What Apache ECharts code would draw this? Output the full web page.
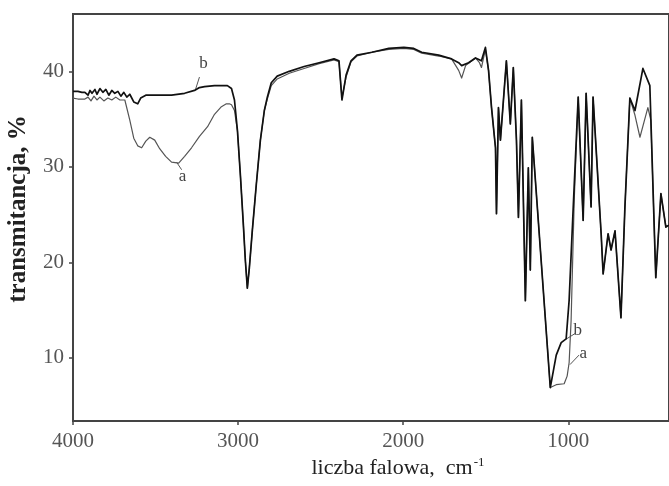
<!DOCTYPE html>
<html>
<head>
<meta charset="utf-8">
<style>
html,body{margin:0;padding:0;background:#fff;}
#c{width:669px;height:486px;}
</style>
<script src="https://cdn.jsdelivr.net/npm/echarts@6/dist/echarts.min.js"></script>
</head>
<body>
<div id="c"></div>
<script>
// wavenumber (cm-1) and transmittance (%) for spectrum a
var wnA = [4000,3970,3928,3909,3891,3873,3855,3837,3813,3789,3765,3741,3716,3686,3656,3632,3608,3584,3559,3535,3505,3475,3439,3403,3360,3324,3282,3234,3185,3143,3101,3071,3053,3040,3022,3004,2986,2968,2956,2944,2932,2914,2890,2865,2841,2823,2799,2763,2690,2600,2509,2419,2389,2371,2346,2316,2280,2189,2087,1996,1936,1888,1785,1707,1664,1646,1622,1562,1538,1526,1502,1483,1465,1441,1435,1423,1411,1375,1351,1333,1314,1302,1284,1260,1242,1230,1218,1109,1073,1025,1007,995,983,964,940,910,892,862,850,801,789,759,741,717,681,657,627,596,566,518,500,470,439,409,391];
var tA  = [37.2,37.1,37.1,37.3,36.9,37.4,37.0,37.3,36.9,37.2,37.0,37.3,37.0,37.0,34.9,33.0,32.2,32.0,32.7,33.1,32.8,31.9,31.1,30.5,30.4,31.1,32.0,33.2,34.2,35.5,36.3,36.6,36.6,36.5,35.9,33.8,29.1,23.9,20.2,17.3,19.4,23.3,28.1,32.8,35.9,37.1,38.5,39.2,39.8,40.3,40.8,41.2,41.0,37.2,39.4,41.0,41.6,42.0,42.3,42.4,42.3,41.9,41.6,41.3,40.1,39.3,40.6,41.4,40.9,40.4,42.3,40.1,36.2,32.0,25.1,36.2,32.8,41.1,34.5,40.4,32.8,24.7,37.0,16.0,29.9,19.2,33.1,6.9,7.2,7.3,8.1,9.5,13.9,26.5,37.3,24.4,37.7,25.8,37.3,23.0,18.8,23.0,21.3,23.3,14.2,25.8,37.2,35.4,33.1,36.2,34.9,18.4,27.2,23.7,23.9];
// wavenumber (cm-1) and transmittance (%) for spectrum b
var wnB = [4000,3970,3946,3928,3909,3897,3885,3867,3855,3837,3819,3801,3783,3765,3747,3728,3710,3692,3674,3656,3632,3608,3590,3559,3475,3403,3324,3264,3234,3203,3143,3065,3040,3022,3004,2986,2968,2956,2944,2932,2914,2890,2865,2841,2823,2799,2763,2690,2600,2509,2419,2389,2371,2346,2316,2280,2189,2087,1996,1936,1888,1785,1707,1664,1646,1634,1604,1562,1526,1502,1483,1465,1441,1435,1423,1411,1375,1351,1333,1314,1302,1284,1260,1242,1230,1218,1109,1073,1043,1013,995,970,940,910,892,862,850,801,789,759,741,717,681,657,627,596,548,506,470,439,409,391];
var tB  = [37.9,37.9,37.8,37.8,37.5,38.0,37.7,38.1,37.6,38.2,37.8,38.1,37.5,38.0,37.7,37.9,37.4,37.8,37.3,37.6,36.8,36.6,37.2,37.5,37.5,37.5,37.7,38.0,38.3,38.4,38.5,38.5,38.2,37.0,33.8,29.1,23.9,20.2,17.3,19.4,23.3,28.1,32.8,35.9,37.3,38.8,39.5,40.0,40.5,40.9,41.3,41.1,37.0,39.6,41.1,41.7,42.0,42.4,42.5,42.4,42.0,41.7,41.3,40.9,40.6,40.5,40.9,41.4,41.1,42.5,40.1,36.2,32.0,25.1,36.2,32.8,41.1,34.5,40.4,32.8,24.7,37.0,16.0,29.9,19.2,33.1,6.9,10.3,11.6,12.0,16.0,25.8,37.3,24.4,37.7,25.8,37.3,23.0,18.8,23.0,21.3,23.3,14.2,25.8,37.2,35.9,40.3,38.5,18.4,27.2,23.7,23.9];
// axis ticks
var xTicks = [4000, 3000, 2000, 1000];
var yTicks = [10, 20, 30, 40];
// curve annotations: [label, labelWn, labelT, leaderFromWn, leaderFromT, leaderToWn, leaderToT]
var notes = [
  ['b', 3209, 40.8, 3234, 39.4, 3258, 38.1],
  ['a', 3336, 29.0, 3342, 29.7, 3373, 30.5],
  ['b', 943, 12.9, 955, 12.6, 1010, 12.0],
  ['a', 910, 10.5, 935, 10.3, 990, 9.3]
];

function pairs(xs, ys){ var o=[]; for (var i=0;i<xs.length;i++) o.push([xs[i], ys[i]]); return o; }

var serif = '"Liberation Serif", "Times New Roman", serif';
var chart = echarts.init(document.getElementById('c'), null, {renderer:'canvas'});
chart.setOption({
  animation: false,
  backgroundColor: '#fff',
  grid: {left: 73, right: -2, top: 14, bottom: 65, show: true, borderColor: '#444', borderWidth: 2, backgroundColor: 'transparent'},
  xAxis: {
    type: 'value', inverse: true, min: 390, max: 4000,
    axisLine: {show: true, lineStyle: {color: '#444', width: 2}},
    axisTick: {show: true, length: 4, inside: false, customValues: xTicks, lineStyle: {color: '#444', width: 1.5}},
    axisLabel: {customValues: xTicks, margin: 10, color: '#555', fontFamily: serif, fontSize: 21,
      formatter: function(v){ return String(v); }},
    splitLine: {show: false}
  },
  yAxis: {
    type: 'value', min: 3.4, max: 46,
    axisLine: {show: true, lineStyle: {color: '#444', width: 2}},
    axisTick: {show: true, length: 4, inside: false, customValues: yTicks, lineStyle: {color: '#444', width: 1.5}},
    axisLabel: {customValues: yTicks, margin: 9, color: '#555', fontFamily: serif, fontSize: 21,
      formatter: function(v){ return String(v); }},
    splitLine: {show: false}
  },
  series: [
    {name: 'a', type: 'line', data: pairs(wnA, tA), showSymbol: false, symbol: 'none',
     lineStyle: {color: '#555', width: 1.2, join: 'round'}, z: 2},
    {name: 'b', type: 'line', data: pairs(wnB, tB), showSymbol: false, symbol: 'none',
     lineStyle: {color: '#111', width: 1.7, join: 'round'}, z: 3}
  ]
});

var g = [];
notes.forEach(function(n){
  var p = chart.convertToPixel({gridIndex: 0}, [n[1], n[2]]);
  var f = chart.convertToPixel({gridIndex: 0}, [n[3], n[4]]);
  var t = chart.convertToPixel({gridIndex: 0}, [n[5], n[6]]);
  g.push({type: 'text', x: p[0], y: p[1], style: {text: n[0], fill: '#444', font: '17px ' + serif, textAlign: 'center', textVerticalAlign: 'middle'}});
  g.push({type: 'line', shape: {x1: f[0], y1: f[1], x2: t[0], y2: t[1]}, style: {stroke: '#555', lineWidth: 1}});
});
g.push({type: 'text', x: 19, y: 209, rotation: Math.PI/2,
  style: {text: 'transmitancja, %', fill: '#222', font: 'bold 25px ' + serif, textAlign: 'center', textVerticalAlign: 'middle'}});
g.push({type: 'text', x: 398, y: 468,
  style: {text: '{m|liczba falowa,  cm}{s|-1}', textAlign: 'center', textVerticalAlign: 'middle',
    rich: {m: {fill: '#222', font: '22px ' + serif, fontFamily: serif, fontSize: 22, color: '#222'},
           s: {fill: '#222', font: '13px ' + serif, fontFamily: serif, fontSize: 13, color: '#222', verticalAlign: 'top', padding: [0,0,10,1]}}}});
chart.setOption({graphic: g});
</script>
</body>
</html>
